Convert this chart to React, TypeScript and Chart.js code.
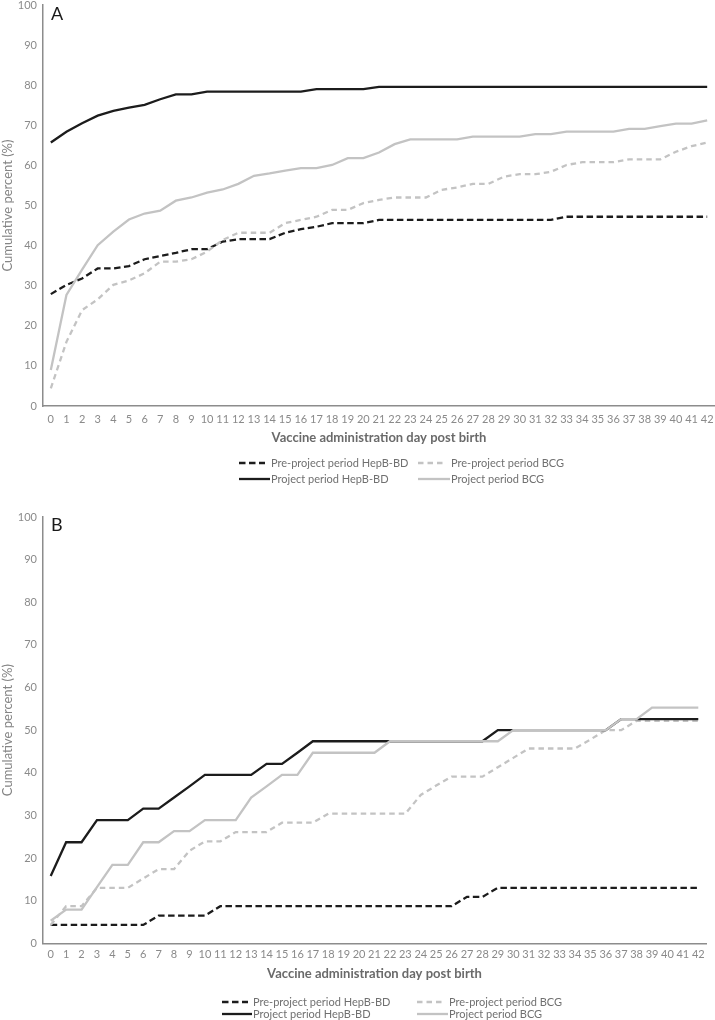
import React, { useEffect, useRef } from "react";
import { Chart, registerables } from "chart.js";

Chart.register(...registerables);

const FONT = "Lato, 'Open Sans', sans-serif";

const DAYS = [
  "0", "1", "2", "3", "4", "5", "6", "7", "8", "9", "10", "11", "12", "13", "14",
  "15", "16", "17", "18", "19", "20", "21", "22", "23", "24", "25", "26", "27", "28",
  "29", "30", "31", "32", "33", "34", "35", "36", "37", "38", "39", "40", "41", "42",
];

const SERIES_LABELS = [
  "Pre-project period HepB-BD",
  "Pre-project period BCG",
  "Project period HepB-BD",
  "Project period BCG",
];

const Y_TITLE = "Cumulative percent (%)";
const X_TITLE = "Vaccine administration day post birth";

// Panel A
const A_PRE_HEPB = [
  27.9, 30.2, 31.8, 34.3, 34.3, 34.9, 36.6, 37.4, 38.2, 39.1, 39.1, 41.0, 41.6, 41.6, 41.6,
  43.2, 44.1, 44.7, 45.6, 45.6, 45.6, 46.4, 46.4, 46.4, 46.4, 46.4, 46.4, 46.4, 46.4,
  46.4, 46.4, 46.4, 46.4, 47.2, 47.2, 47.2, 47.2, 47.2, 47.2, 47.2, 47.2, 47.2, 47.2,
];
const A_PRE_BCG = [
  4.4, 16.0, 23.9, 26.6, 30.2, 31.3, 33.1, 36.0, 36.0, 36.6, 38.5, 41.4, 43.2, 43.2, 43.2,
  45.6, 46.4, 47.2, 48.9, 48.9, 50.6, 51.4, 52.0, 52.0, 52.0, 53.9, 54.5, 55.4, 55.4,
  57.2, 57.8, 57.8, 58.4, 60.1, 60.8, 60.8, 60.8, 61.5, 61.5, 61.5, 63.4, 64.8, 65.7,
];
const A_PROJ_HEPB = [
  65.7, 68.4, 70.5, 72.4, 73.6, 74.4, 75.1, 76.5, 77.7, 77.7, 78.4, 78.4, 78.4, 78.4, 78.4,
  78.4, 78.4, 79.0, 79.0, 79.0, 79.0, 79.6, 79.6, 79.6, 79.6, 79.6, 79.6, 79.6, 79.6,
  79.6, 79.6, 79.6, 79.6, 79.6, 79.6, 79.6, 79.6, 79.6, 79.6, 79.6, 79.6, 79.6, 79.6,
];
const A_PROJ_BCG = [
  9.0, 27.7, 34.0, 40.1, 43.5, 46.5, 48.0, 48.7, 51.2, 52.0, 53.2, 54.0, 55.4, 57.4, 58.0,
  58.7, 59.3, 59.3, 60.1, 61.8, 61.8, 63.2, 65.3, 66.5, 66.5, 66.5, 66.5, 67.2, 67.2,
  67.2, 67.2, 67.8, 67.8, 68.4, 68.4, 68.4, 68.4, 69.1, 69.1, 69.8, 70.4, 70.4, 71.2,
];

// Panel B
const B_PRE_HEPB = [
  4.3, 4.3, 4.3, 4.3, 4.3, 4.3, 4.3, 6.5, 6.5, 6.5, 6.5, 8.7, 8.7, 8.7, 8.7,
  8.7, 8.7, 8.7, 8.7, 8.7, 8.7, 8.7, 8.7, 8.7, 8.7, 8.7, 8.7, 10.9, 10.9,
  13.0, 13.0, 13.0, 13.0, 13.0, 13.0, 13.0, 13.0, 13.0, 13.0, 13.0, 13.0, 13.0, 13.0,
];
const B_PRE_BCG = [
  4.3, 8.7, 8.7, 13.0, 13.0, 13.0, 15.2, 17.4, 17.4, 21.7, 23.9, 23.9, 26.1, 26.1, 26.1,
  28.3, 28.3, 28.3, 30.4, 30.4, 30.4, 30.4, 30.4, 30.4, 34.8, 37.0, 39.1, 39.1, 39.1,
  41.3, 43.5, 45.7, 45.7, 45.7, 45.7, 47.8, 50.0, 50.0, 52.2, 52.2, 52.2, 52.2, 52.2,
];
const B_PROJ_HEPB = [
  15.8, 23.7, 23.7, 28.9, 28.9, 28.9, 31.6, 31.6, 34.2, 36.8, 39.5, 39.5, 39.5, 39.5, 42.1,
  42.1, 44.7, 47.4, 47.4, 47.4, 47.4, 47.4, 47.4, 47.4, 47.4, 47.4, 47.4, 47.4, 47.4,
  50.0, 50.0, 50.0, 50.0, 50.0, 50.0, 50.0, 50.0, 52.6, 52.6, 52.6, 52.6, 52.6, 52.6,
];
const B_PROJ_BCG = [
  5.3, 7.9, 7.9, 13.2, 18.4, 18.4, 23.7, 23.7, 26.3, 26.3, 28.9, 28.9, 28.9, 34.2, 36.8,
  39.5, 39.5, 44.7, 44.7, 44.7, 44.7, 44.7, 47.4, 47.4, 47.4, 47.4, 47.4, 47.4, 47.4,
  47.4, 50.0, 50.0, 50.0, 50.0, 50.0, 50.0, 50.0, 52.6, 52.6, 55.3, 55.3, 55.3, 55.3,
];

const Y_MIN = 0;
const Y_MAX = 100;
const Y_STEP = 10;

const BLACK = "#1c1c1c";
const GRAY = "#c3c3c3";
const AXIS = "#8c8c8c";
const TICK = "#8a8a8a";

type PanelCfg = {
  letter: string;
  height: number;
  series: number[][];
  padTop: number;
  padRight: number;
  xHeight: number;
  xTickPad: number;
  xTitlePad: number;
  letterY: number;
  legendCols: { sx: number; tx: number }[];
  legendRows: number[];
};

const overlayPlugin = {
  id: "overlay",
  afterDraw(chart: any, _args: any, opts: any) {
    const ctx = chart.ctx;
    ctx.save();
    ctx.font = `18px ${FONT}`;
    ctx.fillStyle = "#1a1a1a";
    ctx.textAlign = "left";
    ctx.textBaseline = "middle";
    ctx.fillText(opts.letter, chart.chartArea.left + 8, opts.letterY);

    const ds = chart.data.datasets;
    ctx.font = `11px ${FONT}`;
    ctx.fillStyle = "#707070";
    for (let i = 0; i < ds.length; i++) {
      const row = Math.floor(i / 2);
      const col = i % 2;
      const y = opts.legendRows[row];
      const c = opts.legendCols[col];
      const d = ds[i];
      ctx.save();
      ctx.strokeStyle = d.borderColor;
      ctx.lineWidth = d.borderWidth;
      const dash = d.borderDash || [];
      ctx.setLineDash(dash);
      ctx.beginPath();
      const end = dash.length ? c.sx + 26 : c.tx - 1;
      ctx.moveTo(c.sx, y);
      ctx.lineTo(end, y);
      ctx.stroke();
      ctx.restore();
      ctx.fillText(d.label, c.tx, y);
    }
    ctx.restore();
  },
};

function Panel({ cfg }: { cfg: PanelCfg }) {
  const ref = useRef<HTMLCanvasElement | null>(null);
  useEffect(() => {
    if (!ref.current) return;
    const styles = [
      { color: BLACK, dash: [6.5, 3.5] },
      { color: GRAY, dash: [5.5, 4] },
      { color: BLACK, dash: [] },
      { color: GRAY, dash: [] },
    ];
    const chart = new Chart(ref.current, {
      type: "line",
      data: {
        labels: DAYS,
        datasets: cfg.series.map((s, i) => ({
          label: SERIES_LABELS[i],
          data: s,
          borderColor: styles[i].color,
          backgroundColor: styles[i].color,
          borderDash: styles[i].dash,
          borderWidth: 2.3,
          pointRadius: 0,
          tension: 0,
          fill: false,
          order: 4 - i,
        })),
      },
      options: {
        animation: false,
        responsive: false,
        layout: { padding: { top: cfg.padTop, right: cfg.padRight, bottom: 0, left: 0 } },
        plugins: {
          legend: { display: false },
          tooltip: { enabled: false },
          overlay: {
            letter: cfg.letter,
            letterY: cfg.letterY,
            legendCols: cfg.legendCols,
            legendRows: cfg.legendRows,
          },
        } as any,
        scales: {
          x: {
            type: "category",
            offset: true,
            grid: { display: false, drawTicks: false },
            border: { display: true, color: AXIS, width: 1.5 },
            ticks: {
              color: TICK,
              font: { family: FONT, size: 11, lineHeight: 1.2 },
              padding: cfg.xTickPad,
              autoSkip: false,
              maxRotation: 0,
            },
            title: {
              display: true,
              text: X_TITLE,
              color: "#6a6a6a",
              font: { family: FONT, size: 13, weight: "bold", lineHeight: 1.2 },
              padding: { top: 0, bottom: cfg.xTitlePad },
            },
            afterFit(s: any) {
              s.height = cfg.xHeight;
              s.paddingLeft = 0;
              s.paddingRight = 0;
            },
          },
          y: {
            min: Y_MIN,
            max: Y_MAX,
            grid: { display: false, drawTicks: false },
            border: { display: true, color: AXIS, width: 1.5 },
            ticks: {
              stepSize: Y_STEP,
              color: TICK,
              font: { family: FONT, size: 11, lineHeight: 1.2 },
              padding: 6,
            },
            title: {
              display: true,
              text: Y_TITLE,
              color: "#858585",
              font: { family: FONT, size: 13, lineHeight: 1.2 },
              padding: { top: 0, bottom: 0 },
            },
            afterFit(s: any) {
              s.width = 43;
              s.paddingTop = 0;
              s.paddingBottom = 0;
            },
          },
        },
      },
      plugins: [overlayPlugin as any],
    } as any);
    return () => chart.destroy();
  }, [cfg]);
  return (
    <canvas
      ref={ref}
      width={715}
      height={cfg.height}
      style={{ display: "block", width: 715, height: cfg.height }}
    />
  );
}

const PANEL_A: PanelCfg = {
  letter: "A",
  height: 500,
  series: [A_PRE_HEPB, A_PRE_BCG, A_PROJ_HEPB, A_PROJ_BCG],
  padTop: 5,
  padRight: 0,
  xHeight: 94,
  xTickPad: 6.4,
  xTitlePad: 54.2,
  letterY: 14,
  legendCols: [
    { sx: 239, tx: 271 },
    { sx: 418, tx: 451 },
  ],
  legendRows: [463, 479],
};

const PANEL_B: PanelCfg = {
  letter: "B",
  height: 520,
  series: [B_PRE_HEPB, B_PRE_BCG, B_PROJ_HEPB, B_PROJ_BCG],
  padTop: 17,
  padRight: 9,
  xHeight: 76.7,
  xTickPad: 4.1,
  xTitlePad: 38.2,
  letterY: 25,
  legendCols: [
    { sx: 222, tx: 253 },
    { sx: 417, tx: 449 },
  ],
  legendRows: [502, 514],
};

export default function App() {
  return (
    <div style={{ position: "absolute", left: 0, top: 0, width: 715, height: 1020, background: "#fff" }}>
      <Panel cfg={PANEL_A} />
      <Panel cfg={PANEL_B} />
    </div>
  );
}
